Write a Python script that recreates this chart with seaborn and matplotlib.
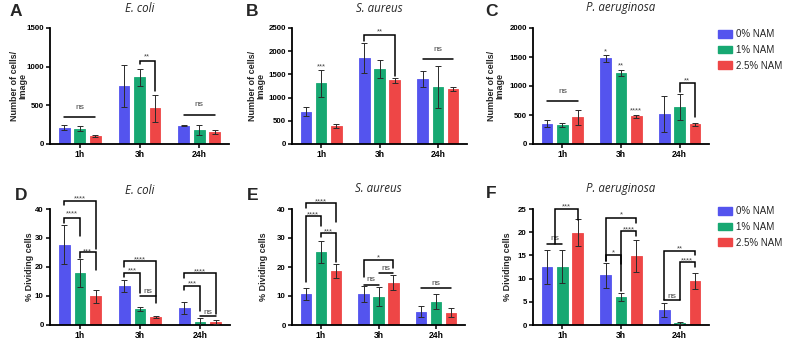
import numpy as np
import pandas as pd
import matplotlib
matplotlib.use("Agg")
import matplotlib.pyplot as plt
import matplotlib.transforms as mtransforms
from matplotlib.patches import Patch
import seaborn as sns

sns.set_style("white")
plt.rcParams['font.family'] = ['Liberation Sans', 'DejaVu Sans']

times = ["1h", "3h", "24h"]
conds = ["0% NAM", "1% NAM", "2.5% NAM"]
colors = ["#5454EE", "#17A872", "#EE4646"]

# Means / SD, rows = conditions (0%, 1%, 2.5%), columns = times
A_mean = [[213, 750, 239], [200, 865, 183], [102, 460, 153]]
A_sd = [[30, 266, 9], [30, 110, 62], [17, 170, 30]]
B_mean = [[697, 1853, 1400], [1307, 1609, 1228], [388, 1372, 1185]]
B_sd = [[100, 330, 165], [290, 195, 450], [40, 55, 35]]
C_mean = [[351, 1477, 511], [333, 1224, 638], [460, 477, 339]]
C_sd = [[55, 57, 310], [35, 52, 225], [125, 29, 30]]
D_mean = [[27.7, 13.3, 5.6], [17.8, 5.4, 0.8], [9.8, 2.6, 0.8]]
D_sd = [[6.6, 2.0, 2.1], [4.8, 0.6, 1.6], [2.2, 0.4, 0.6]]
E_mean = [[10.6, 10.6, 4.6], [25.2, 9.8, 8.1], [18.6, 14.6, 4.3]]
E_sd = [[2.0, 2.7, 1.85], [3.7, 3.4, 2.75], [2.5, 2.5, 1.55]]
F_mean = [[12.5, 10.7, 3.25], [12.6, 6.1, 0.4], [19.9, 14.9, 9.4]]
F_sd = [[3.6, 2.75, 1.5], [3.6, 0.85, 0.15], [2.95, 3.4, 1.7]]

# Significance annotations: (group, hue_left, hue_right, y_top, y_left_end, y_right_end, text, text_y)
A_ann = [(0, 0, 2, 349, 349, 349, "ns", 477),
         (1, 1, 2, 1078, 1035, 686, "**", 1159),
         (2, 0, 2, 379, 379, 379, "ns", 507)]
B_ann = [(0, 1, 1, None, None, None, "***", 1717),
         (1, 0, 2, 2356, 2220, 1473, "**", 2471),
         (2, 0, 2, 1839, 1839, 1839, "ns", 2040)]
C_ann = [(0, 0, 2, 736, 736, 736, "ns", 902),
         (1, 0, 0, None, None, None, "*", 1632),
         (1, 1, 1, None, None, None, "**", 1390),
         (1, 2, 2, None, None, None, "****", 615),
         (2, 1, 2, 1046, 891, 466, "**", 1133)]
D_ann = [(0, 0, 2, 42.8, 41.4, 26.0, "****", 44.5),
         (0, 0, 1, 37.0, 35.0, 30.6, "****", 39.0),
         (0, 1, 2, 25.0, 22.9, 18.8, "***", 26.1),
         (1, 0, 2, 22.1, 20.0, 7.3, "****", 23.2),
         (1, 0, 1, 17.8, 16.3, 10.8, "***", 19.3),
         (1, 1, 2, 9.8, 9.8, 9.8, "ns", 11.3),
         (2, 0, 2, 17.7, 16.0, 3.5, "****", 19.2),
         (2, 0, 1, 13.4, 11.9, 4.7, "***", 15.1),
         (2, 1, 2, 2.9, 2.9, 2.9, "ns", 4.3)]
E_ann = [(0, 0, 2, 42.1, 40.5, 35.5, "****", 43.2),
         (0, 0, 1, 37.7, 14.9, 34.2, "****", 39.0),
         (0, 1, 2, 31.6, 30.5, 21.8, "***", 32.9),
         (1, 0, 2, 22.5, 16.6, 19.7, "*", 23.9),
         (1, 0, 1, 13.9, 13.9, 13.9, "ns", 15.6),
         (1, 1, 2, 17.9, 17.9, 17.9, "ns", 19.4),
         (2, 0, 2, 12.6, 12.6, 12.6, "ns", 14.3)]
F_ann = [(0, 0, 1, 17.55, 17.55, 17.55, "ns", 18.6),
         (0, 0.5, 2, 24.9, 17.55, 22.7, "***", 26.0),
         (1, 0, 2, 23.1, 13.7, 22.0, "*", 24.2),
         (1, 1, 2, 20.2, 13.2, 19.1, "****", 21.1),
         (1, 0, 1, 15.0, 13.7, 7.3, "*", 16.0),
         (2, 0, 2, 15.9, 5.3, 15.0, "**", 17.0),
         (2, 1, 2, 13.5, 5.3, 12.6, "****", 14.4),
         (2, 0, 1, 5.3, 5.3, 5.3, "ns", 6.2)]

panels = [
    ("A", "E. coli", A_mean, A_sd, A_ann, 1500, 500, "Number of cells/\nImage", (50, 229, 28, 144), 19, False),
    ("B", "S. aureus", B_mean, B_sd, B_ann, 2500, 500, "Number of cells/\nImage", (292, 467, 28, 144), 257, False),
    ("C", "P. aeruginosa", C_mean, C_sd, C_ann, 2000, 500, "Number of cells/\nImage", (533, 709, 28, 144), 496, True),
    ("D", "E. coli", D_mean, D_sd, D_ann, 40, 10, "% Dividing cells", (50, 230, 209, 324.5), 29, False),
    ("E", "S. aureus", E_mean, E_sd, E_ann, 40, 10, "% Dividing cells", (292, 465, 209, 325), 263, False),
    ("F", "P. aeruginosa", F_mean, F_sd, F_ann, 25, 5, "% Dividing cells", (533, 709, 209, 325), 508, True),
]
letter_pos = {"A": (16, 11), "B": (252, 12), "C": (492, 12), "D": (21, 195), "E": (253, 195), "F": (491, 194)}
title_y = {"A": 8, "B": 8, "C": 8, "D": 191, "E": 189, "F": 189}

W, H = 785, 343
fig = plt.figure(figsize=(W / 100, H / 100), dpi=100)

for letter, title, means, sds, ann, ymax, step, ylabel, box, ylx, legend in panels:
    l, r, t, b = box
    ax = fig.add_axes([l / W, 1 - b / H, (r - l) / W, (b - t) / H])
    rows = []
    for ci, c in enumerate(conds):
        for ti, tm in enumerate(times):
            rows.append({"time": tm, "cond": c, "value": means[ci][ti], "sd": sds[ci][ti]})
    df = pd.DataFrame(rows)
    sns.barplot(data=df, x="time", y="value", hue="cond", hue_order=conds, order=times,
                palette=colors, width=0.78, gap=0.3, errorbar=None, ax=ax, legend=False,
                saturation=1, linewidth=0.6)
    bar_conts = list(ax.containers)
    for ci, cont in enumerate(bar_conts):
        for ti, bar in enumerate(cont.patches):
            bar.set_edgecolor(colors[ci])
            xc = bar.get_x() + bar.get_width() / 2
            ax.errorbar(xc, means[ci][ti], yerr=sds[ci][ti], fmt="none", ecolor="#2a2a2a",
                        elinewidth=0.7, capsize=2.0, capthick=0.7, zorder=5)

    def xpos(g, h, bar_conts=bar_conts):
        h0 = int(np.floor(h))
        bar0 = bar_conts[h0].patches[g]
        x0 = bar0.get_x() + bar0.get_width() / 2
        if h == h0:
            return x0
        bar1 = bar_conts[h0 + 1].patches[g]
        x1 = bar1.get_x() + bar1.get_width() / 2
        return x0 + (h - h0) * (x1 - x0)

    for g, h1, h2, yt, yl, yr, txt, ty in ann:
        x1, x2 = xpos(g, h1), xpos(g, h2)
        if yt is not None:
            ax.plot([x1, x1, x2, x2], [yl, yt, yt, yr], color="black", lw=1.1,
                    clip_on=False, solid_joinstyle="miter", zorder=6)
        if txt == "ns":
            trans = ax.transData
            fs = 6
        else:
            trans = ax.transData + mtransforms.ScaledTranslation(0, -1.8 / 72, fig.dpi_scale_trans)
            fs = 5.5
        ax.text((x1 + x2) / 2, ty, txt, ha="center", va="center", fontsize=fs,
                color="#444444", transform=trans, clip_on=False)

    ax.set_xlim(-0.5, 2.5)
    ax.set_ylim(0, ymax)
    ax.set_yticks(np.arange(0, ymax + step / 2, step))
    sns.despine(ax=ax)
    for s in ["left", "bottom"]:
        ax.spines[s].set_linewidth(1.3)
        ax.spines[s].set_color("black")
    ax.tick_params(axis="both", which="both", direction="out", length=3, width=1.1,
                   labelsize=5.7, pad=1.5, colors="black", left=True, bottom=True)
    ax.tick_params(axis="x", labelsize=6.2)
    for lab in ax.get_xticklabels() + ax.get_yticklabels():
        lab.set_fontweight("bold")
    ax.set_xlabel("")
    ax.set_ylabel(ylabel, fontsize=6.5, fontweight="bold", va="center", ha="center",
                  linespacing=0.95)
    ax.yaxis.set_label_coords((ylx - l) / (r - l), 0.5)

    fig.text(((l + r) / 2) / W, 1 - title_y[letter] / H, title, ha="center", va="center",
             fontsize=8.3, style="italic", family="Open Sans")
    lx, ly = letter_pos[letter]
    fig.text(lx / W, 1 - ly / H, letter, ha="center", va="center", fontsize=12.5,
             fontweight="bold")

    if legend:
        handles = [Patch(facecolor=c, edgecolor=c) for c in colors]
        top_px = t + 1 if letter == "C" else t - 3
        fig.legend(handles, conds, loc="upper left",
                   bbox_to_anchor=(718 / W, 1 - top_px / H), frameon=False,
                   fontsize=7, borderpad=0, borderaxespad=0, handlelength=1.45,
                   handleheight=0.85, handletextpad=0.45, labelspacing=0.6)

fig.savefig("out.png", dpi=100)
